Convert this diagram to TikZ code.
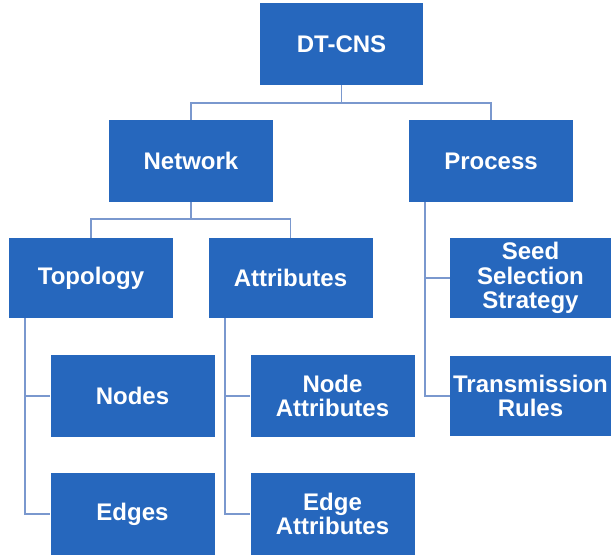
\documentclass[tikz,border=0pt]{standalone}
\usepackage{fontspec}
\setmainfont{Liberation Sans}
\definecolor{boxblue}{HTML}{2667BD}
\definecolor{linkblue}{HTML}{7A98CE}
\begin{document}
\begin{tikzpicture}[x=0.75pt,y=-0.75pt,
  box/.style={fill=boxblue,draw=none,text=white,inner sep=0pt,align=center,
    font=\fontsize{18}{18.5}\selectfont\bfseries,minimum width=123pt,minimum height=61pt},
  link/.style={draw=linkblue,line width=0.9pt}]
\useasboundingbox (0,0) rectangle (611,555);
\node[box,minimum width=122pt,minimum height=61.5pt] (dt) at (341.5,44) {DT-CNS};
\node[box,minimum height=61.5pt] (net) at (191,161) {Network};
\node[box,minimum height=61.5pt] (proc) at (491,161) {Process};
\node[box,minimum height=60pt] (topo) at (91,278) {Topology};
\node[box,minimum height=60pt] (attr) at (290.5,278) {Attributes};
\node[box,minimum width=121pt,minimum height=60pt] (seed) at (530.5,278) {Seed\\Selection\\Strategy};
\node[box,minimum width=121pt,minimum height=60pt] (trans) at (530.5,396) {Transmission\\Rules};
\node[box,minimum height=61.5pt] (nodes) at (132.5,396) {Nodes};
\node[box,minimum height=61.5pt] (nattr) at (332.5,396) {Node\\Attributes};
\node[box,minimum height=61.5pt] (edges) at (132.5,514) {Edges};
\node[box,minimum height=61.5pt] (eattr) at (332.5,514) {Edge\\Attributes};
\coordinate (j1) at (341.5,103);
\coordinate (j2) at (191,219);
\draw[link] (dt.south) -- (j1) -| (net.north);
\draw[link] (j1) -| (proc.north);
\draw[link] (net.south) -- (j2) -| (topo.north);
\draw[link] (j2) -| (attr.north);
\coordinate (s1) at (25,318);
\coordinate (s2) at (225,318);
\coordinate (s3) at (425,202);
\draw[link] (s1) |- (nodes.west);
\draw[link] (s1) |- (edges.west);
\draw[link] (s2) |- (nattr.west);
\draw[link] (s2) |- (eattr.west);
\draw[link] (s3) |- (seed.west);
\draw[link] (s3) |- (trans.west);
\end{tikzpicture}
\end{document}
